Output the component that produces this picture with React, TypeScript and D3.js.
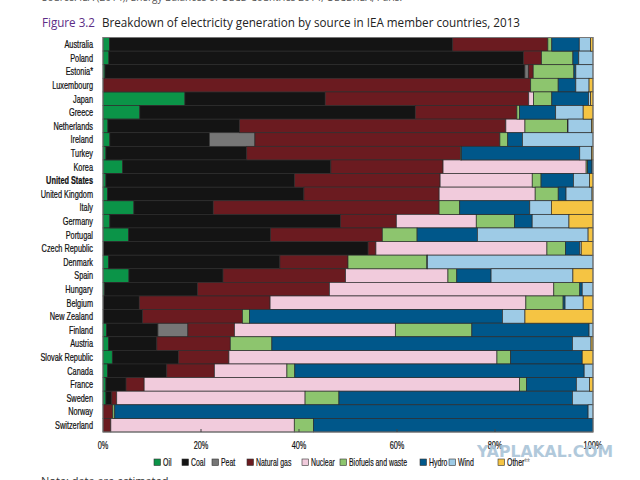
import React from "react";
import * as d3 from "d3";

const countries = [
  "Australia", "Poland", "Estonia*", "Luxembourg", "Japan", "Greece", "Netherlands",
  "Ireland", "Turkey", "Korea", "United States", "United Kingdom", "Italy", "Germany",
  "Portugal", "Czech Republic", "Denmark", "Spain", "Hungary", "Belgium", "New Zealand",
  "Finland", "Austria", "Slovak Republic", "Canada", "France", "Sweden", "Norway", "Switzerland",
];

const sources = ["Oil", "Coal", "Peat", "Natural gas", "Nuclear", "Biofuels and waste", "Hydro", "Wind", "Other"];

// shares in %, one value per country, same order as countries
const oil = [1.3, 1.2, 0.4, 0, 16.7, 7.5, 1.0, 1.4, 0.6, 4.0, 0.6, 0.9, 6.3, 1.4, 5.2, 0.1, 1.1, 5.3, 0.3, 0.1, 0, 0.7, 1.1, 1.9, 0.9, 0.6, 0.6, 0, 0];
const coal = [70.0, 84.6, 85.7, 0, 28.6, 56.1, 26.9, 20.3, 28.7, 42.5, 38.5, 40.1, 16.2, 47.0, 29.0, 54.0, 35.0, 19.2, 19.0, 7.3, 8.1, 10.5, 9.9, 13.5, 12.1, 4.1, 1.2, 0, 0];
const peat = [0, 0, 0.7, 0, 0, 0, 0, 9.3, 0, 0, 0, 0, 0, 0, 0, 0, 0, 0, 0, 0, 0, 6.1, 0, 0, 0, 0, 0, 0, 0];
const gas = [19.4, 3.7, 1.0, 87.2, 41.5, 20.7, 54.4, 50.0, 43.6, 22.9, 29.7, 27.6, 46.1, 11.4, 22.8, 1.6, 13.9, 25.0, 26.9, 26.7, 20.4, 9.5, 15.0, 10.3, 9.7, 3.7, 1.0, 2.0, 1.6];
const nuclear = [0, 0, 0, 0, 1.0, 0, 3.9, 0, 0, 29.2, 18.8, 19.6, 0, 16.3, 0, 34.9, 0, 20.9, 45.8, 52.2, 0, 32.8, 0, 54.7, 14.8, 76.6, 38.4, 0, 37.4];
const biofuels = [0.8, 6.4, 8.3, 5.6, 3.7, 0.5, 8.7, 1.6, 0.2, 0.3, 1.8, 4.7, 4.2, 7.8, 7.1, 3.8, 16.1, 1.8, 5.3, 7.6, 1.4, 15.6, 8.5, 2.8, 1.6, 1.4, 6.9, 0.4, 3.9];
const hydro = [5.6, 1.2, 0.4, 3.6, 7.5, 7.4, 0.1, 3.0, 24.1, 0.9, 6.6, 1.6, 14.3, 3.6, 12.3, 2.9, 0.1, 7.0, 0.5, 0.4, 51.7, 23.9, 61.4, 14.6, 59.0, 10.2, 47.6, 96.6, 57.0];
const wind = [2.3, 2.9, 3.5, 2.7, 0.4, 5.6, 4.8, 14.4, 2.4, 0.2, 3.3, 5.3, 4.4, 7.5, 22.6, 0.3, 33.8, 16.7, 2.2, 3.7, 4.6, 0.8, 3.8, 0, 1.8, 2.7, 4.2, 1.0, 0];
const other = [0.5, 0, 0, 0.8, 0.5, 2.0, 0.3, 0, 0.3, 0, 0.7, 0.2, 8.5, 4.9, 1.0, 2.4, 0, 4.1, 0, 2.0, 13.9, 0, 0.4, 2.2, 0, 0.7, 0, 0, 0];

const seriesValues = [oil, coal, peat, gas, nuclear, biofuels, hydro, wind, other];
const colors = ["#0b9448", "#141414", "#767676", "#6b1b20", "#f1cbdc", "#8dc56e", "#00578a", "#9ecbe6", "#f5c443"];
const ticks = [0, 0.2, 0.4, 0.6, 0.8, 1];

// narrow label font: Liberation Sans squeezed horizontally
const labelFont = "'Liberation Sans', Arial, sans-serif";
const squeeze = 0.7;

export default function App() {
  const width = 640;
  const height = 480;

  const x = d3.scaleLinear().domain([0, 1]).range([103, 593]);
  const y = d3.scaleBand<string>().domain(countries).range([37.5, 432]).padding(0);

  const rows = countries.map((c, i) => {
    const r: Record<string, number | string> = { country: c };
    sources.forEach((s, k) => (r[s] = seriesValues[k][i]));
    return r;
  });
  const stacked = d3
    .stack<Record<string, number | string>>()
    .keys(sources)
    .value((d, key) => d[key] as number)
    .offset(d3.stackOffsetExpand)(rows);

  // legend layout
  const legendX = [154, 182, 212, 247, 302, 340, 420, 449, 498];

  return (
    <svg width={width} height={height} style={{ position: "absolute", left: 0, top: 0, background: "#fff" }}>
      <text x={42} y={1} fontFamily="'Open Sans', sans-serif" fontSize={10} fill="#555">
        Source: IEA (2014), Energy Balances of OECD Countries 2014, OECD/IEA, Paris.
      </text>
      <text x={42} y={27} fontFamily="'Open Sans', sans-serif" fontSize={13} fill="#5c2d86" textLength={53} lengthAdjust="spacingAndGlyphs">
        Figure 3.2
      </text>
      <text x={102} y={27} fontFamily="'Open Sans', sans-serif" fontSize={13} fill="#222" textLength={418} lengthAdjust="spacingAndGlyphs">
        Breakdown of electricity generation by source in IEA member countries, 2013
      </text>

      {stacked.map((layer, k) => (
        <g key={layer.key} fill={colors[k]}>
          {layer.map((d, i) =>
            d[1] - d[0] > 0 ? (
              <rect
                key={i}
                x={x(d[0])}
                y={y(countries[i])!}
                width={x(d[1]) - x(d[0])}
                height={y.bandwidth()}
                stroke="#2b2b2b"
                strokeWidth={0.7}
              />
            ) : null
          )}
        </g>
      ))}

      <rect x={103} y={37.5} width={490} height={394.5} fill="none" stroke="#777" strokeWidth={1} />
      {ticks.slice(1, -1).map((t) => (
        <line key={t} x1={x(t)} x2={x(t)} y1={432} y2={429} stroke="#444" strokeWidth={1} />
      ))}

      {countries.map((c) => (
        <text
          key={c}
          transform={`translate(93,${y(c)! + y.bandwidth() / 2 + 3.8}) scale(${squeeze},1)`}
          textAnchor="end"
          fontFamily={labelFont}
          fontSize={10.5}
          fontWeight={c === "United States" ? "bold" : "normal"}
          fill="#111"
          stroke="#111"
          strokeWidth={0.25}
        >
          {c}
        </text>
      ))}

      {ticks.map((t) => (
        <text
          key={t}
          transform={`translate(${x(t)},449) scale(${squeeze},1)`}
          textAnchor="middle"
          fontFamily={labelFont}
          fontSize={10.5}
          fill="#111"
          stroke="#111"
          strokeWidth={0.2}
        >
          {d3.format(".0%")(t)}
        </text>
      ))}

      {sources.map((s, k) => (
        <g key={s}>
          <rect x={legendX[k]} y={459} width={6.5} height={6.5} fill={colors[k]} stroke="#333" strokeWidth={0.6} />
          <text
            transform={`translate(${legendX[k] + 9},466) scale(0.66,1)`}
            fontFamily={labelFont}
            fontSize={10.5}
            fill="#111"
            stroke="#111"
            strokeWidth={0.2}
          >
            {s}
            {s === "Other" ? <tspan fill="#999" stroke="#999">**</tspan> : null}
          </text>
        </g>
      ))}

      <text x={477} y={457} fontFamily="'DejaVu Sans', sans-serif" fontWeight="bold" fontSize={16} fill="#a9c4d8" opacity={0.9} textLength={136} lengthAdjust="spacingAndGlyphs">
        YAPLAKAL.COM
      </text>

      <text x={41} y={485} fontFamily="'Open Sans', sans-serif" fontSize={11} fill="#333">
        Note: data are estimated.
      </text>
    </svg>
  );
}
